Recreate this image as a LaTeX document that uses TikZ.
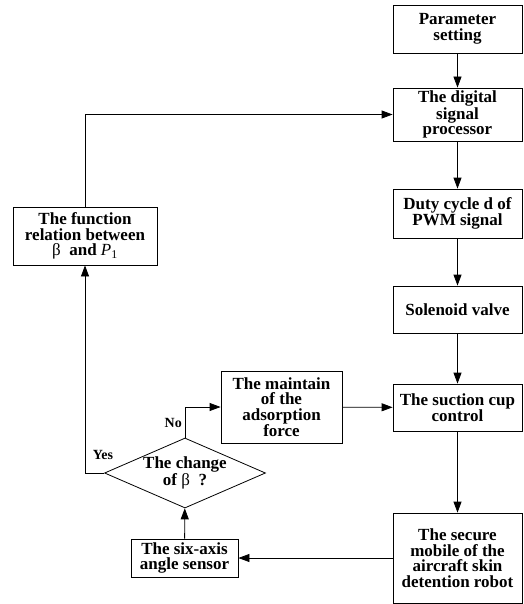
\documentclass[tikz,border=0pt]{standalone}
\usepackage{fontspec}
\setmainfont{Liberation Serif}
\usetikzlibrary{shapes.geometric,arrows.meta}

\tikzset{
  box/.style={draw, line width=0.8pt, align=center, inner sep=2pt,
    font=\bfseries\fontsize{17}{15.5}\selectfont},
  decide/.style={draw, diamond, line width=0.8pt, align=center, inner sep=0pt,
    aspect=2.3, font=\bfseries\fontsize{17}{15.5}\selectfont},
  arr/.style={line width=0.8pt, -{Triangle[length=11pt,width=8pt]}},
  lbl/.style={font=\bfseries\fontsize{14}{15}\selectfont, inner sep=1pt},
}

\begin{document}
\begin{tikzpicture}[x=1pt,y=-1pt]
				\useasboundingbox (0,0) rectangle (523,604);
				\draw (457.5,29) node[box, minimum width=129pt, minimum height=48pt] (param) {Parameter\\setting};
				\draw (457.5,114.5) node[box, minimum width=129pt, minimum height=53pt] (dsp) {The digital\\signal\\processor};
				\draw (457.5,213.5) node[box, minimum width=129pt, minimum height=49pt] (duty) {Duty cycle d of\\PWM signal};
				\draw (457.5,309.5) node[box, minimum width=129pt, minimum height=47pt] (valve) {Solenoid valve};
				\draw (457.5,407.5) node[box, minimum width=129pt, minimum height=47pt] (suction) {The suction cup\\control};
				\draw (457.5,558) node[box, minimum width=129pt, minimum height=90pt] (robot) {The secure\\mobile of the\\aircraft skin\\detention robot};
				\draw (85,236) node[box, minimum width=144pt, minimum height=58pt] (relation) {The function\\relation between\\{\mdseries β}~~and {\mdseries\itshape P}\textsubscript{\mdseries 1}};
				\draw (281.5,407) node[box, minimum width=121pt, minimum height=72pt] (maintain) {The maintain\\of the\\adsorption\\force};
				\draw (185,473) node[decide, minimum width=161pt, minimum height=70pt] (change) {The change\\of {\mdseries β} ~?};
				\draw (184.5,558) node[box, minimum width=107pt, minimum height=38pt] (sensor) {The six-axis\\angle sensor};

				\path[arr]
				(param) edge (dsp)
				(dsp) edge (duty)
				(duty) edge (valve)
				(valve) edge (suction)
				(suction) edge (robot)
				(robot) edge (sensor)
				(sensor) edge (change)
				(maintain) edge (suction)
				;
				\draw[arr] (change.north) |- (maintain.west);
				\draw[arr] (change.west) -| (relation.south);
				\draw[arr] (relation.north) |- (dsp.west);

				\draw (183,423) node[lbl, anchor=east] (no) {No};
				\draw (103,455) node[lbl] (yes) {Yes};
			\end{tikzpicture}
\end{document}
